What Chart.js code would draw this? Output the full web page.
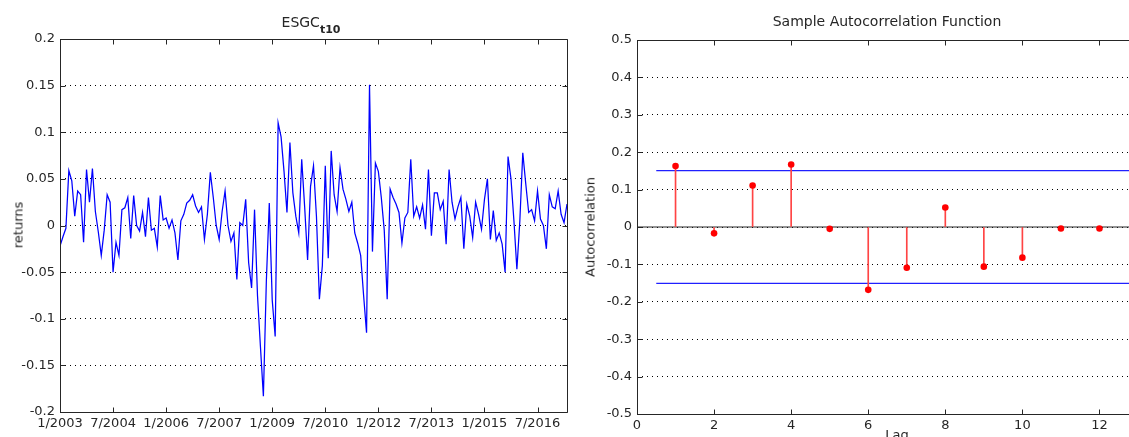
<!DOCTYPE html>
<html><head><meta charset="utf-8">
<script src="https://cdn.jsdelivr.net/npm/chart.js@4.4.1/dist/chart.umd.min.js"></script>
<style>
html,body{margin:0;padding:0;background:#fff;overflow:hidden;width:1129px;height:437px;}
#wrap{position:relative;width:1129px;height:437px;overflow:hidden;font-family:"DejaVu Sans",sans-serif;color:#262626;}
canvas{position:absolute;top:0;}
#c1{left:0;}
#c2{left:570px;}
.lbl{position:absolute;white-space:nowrap;line-height:1;}
#t1{left:311px;top:15px;font-size:14px;transform:translateX(-50%);}
#t1 sub{font-size:11px;font-weight:bold;vertical-align:-6px;}
#t2{left:887px;top:14px;font-size:14px;transform:translateX(-50%);}
#yl1{left:18px;top:225px;font-size:13px;transform:translate(-50%,-50%) rotate(-90deg);}
#yl2{left:590px;top:227px;font-size:13px;transform:translate(-50%,-50%) rotate(-90deg);}
#xl2{left:897px;top:428px;font-size:13px;transform:translateX(-50%);}
</style></head><body><div id="wrap">
<canvas id="c1" width="570" height="437"></canvas>
<canvas id="c2" width="580" height="437"></canvas>
<div class="lbl" id="t1">ESGC<sub>t10</sub></div>
<div class="lbl" id="t2">Sample Autocorrelation Function</div>
<div class="lbl" id="yl1">returns</div>
<div class="lbl" id="yl2">Autocorrelation</div>
<div class="lbl" id="xl2">Lag</div>
</div>
<script>
// ---------- data ----------
const returns = [
 -0.022,-0.012,-0.003,0.059,0.048,0.010,0.037,0.033,-0.018,0.060,
 0.025,0.061,0.015,-0.007,-0.032,-0.005,0.033,0.025,-0.050,-0.018,
 -0.032,0.017,0.019,0.030,-0.014,0.032,0.000,-0.006,0.014,-0.012,
 0.030,-0.005,-0.003,-0.023,0.032,0.006,0.008,-0.003,0.006,-0.008,
 -0.037,0.005,0.012,0.024,0.027,0.033,0.021,0.014,0.020,-0.015,
 0.012,0.057,0.030,0.000,-0.015,0.015,0.037,0.000,-0.017,-0.008,
 -0.058,0.003,0.000,0.028,-0.040,-0.067,0.017,-0.075,-0.130,-0.183,
 -0.060,0.024,-0.080,-0.119,0.110,0.095,0.058,0.014,0.089,0.035,
 0.010,-0.008,0.071,0.020,-0.037,0.042,0.064,0.010,-0.079,-0.043,
 0.064,-0.035,0.080,0.033,0.015,0.062,0.039,0.028,0.015,0.025,
 -0.008,-0.019,-0.032,-0.075,-0.115,0.151,-0.028,0.067,0.058,0.030,
 -0.005,-0.079,0.039,0.030,0.023,0.014,-0.019,0.008,0.014,0.071,
 0.010,0.020,0.008,0.022,-0.004,0.060,-0.011,0.035,0.035,0.017,
 0.026,-0.020,0.060,0.025,0.007,0.020,0.030,-0.025,0.023,0.010,
 -0.013,0.025,0.012,-0.004,0.028,0.050,-0.015,0.016,-0.016,-0.008,
 -0.020,-0.050,0.074,0.050,0.005,-0.047,0.005,0.078,0.045,0.014,
 0.017,0.005,0.037,0.007,0.000,-0.025,0.033,0.020,0.018,0.037,
 0.012,0.003,0.023
];
const xTickPositions = [0,18,36,54,72,90,108,126,144,162];
const xTickLabels = ['1/2003','7/2004','1/2006','7/2007','1/2009','7/2010','1/2012','7/2013','1/2015','7/2016'];
const leftYTicks = [-0.2,-0.15,-0.1,-0.05,0,0.05,0.1,0.15,0.2];

const lags = [1,2,3,4,5,6,7,8,9,10,11,12];
const acf = [0.163,-0.017,0.111,0.167,-0.005,-0.168,-0.109,0.052,-0.106,-0.082,-0.004,-0.004];
const confBound = 0.151;
const rightXTicks = [0,2,4,6,8,10,12];
const rightYTicks = [-0.5,-0.4,-0.3,-0.2,-0.1,0,0.1,0.2,0.3,0.4,0.5];

// ---------- helpers ----------
const AXIS = '#262626';
const FONT = {family:'"DejaVu Sans", sans-serif', size:13};
const fmt = v => (Math.round(v*100)/100).toString();
const al = p => Math.round(p) + 0.5;

const boxPlugin = {
  id:'box',
  afterDraw(chart){
    const {ctx, chartArea:{left,right,top,bottom}} = chart;
    const L=al(left), R=al(right), T=al(top), B=al(bottom), len=5;
    ctx.save();
    ctx.strokeStyle = AXIS; ctx.lineWidth = 1; ctx.setLineDash([]);
    ctx.beginPath();
    ctx.rect(L, T, R-L, B-T);
    chart.scales.x.ticks.forEach(t => {
      const px = al(chart.scales.x.getPixelForValue(t.value));
      ctx.moveTo(px, B); ctx.lineTo(px, B-len);
      ctx.moveTo(px, T); ctx.lineTo(px, T+len);
    });
    chart.scales.y.ticks.forEach(t => {
      const py = al(chart.scales.y.getPixelForValue(t.value));
      ctx.moveTo(L, py); ctx.lineTo(L+len, py);
      ctx.moveTo(R, py); ctx.lineTo(R-len, py);
    });
    ctx.stroke();
    ctx.restore();
  }
};

function yScale(min, max, ticks, width){
  return {
    type:'linear', min, max,
    afterBuildTicks: s => { s.ticks = ticks.map(v => ({value:v})); },
    afterFit: s => { s.width = width; },
    ticks:{callback: v => fmt(v), font:FONT, color:AXIS, padding:5},
    grid:{color:'#000', lineWidth:1, drawTicks:false},
    border:{display:false, dash:[1,4]}
  };
}
function xScale(min, max, ticks, labels, height){
  return {
    type:'linear', min, max, offset:false,
    afterBuildTicks: s => { s.ticks = ticks.map(v => ({value:v})); },
    afterFit: s => { s.height = height; },
    ticks:{callback: (v) => { const k = ticks.indexOf(v); return labels ? labels[k] : String(v); },
           font:FONT, color:AXIS, padding:4, autoSkip:false, maxRotation:0},
    grid:{display:false, drawTicks:false},
    border:{display:false}
  };
}

Chart.defaults.animation = false;

new Chart(document.getElementById('c1'), {
  type:'line',
  data:{datasets:[{
    data: returns.map((v,i) => ({x:i, y:v})),
    borderColor:'#0000ff', borderWidth:1.25, pointRadius:0, tension:0, fill:false
  }]},
  options:{
    responsive:false, animation:false,
    layout:{padding:{top:39, right:3, left:0, bottom:0}},
    plugins:{legend:{display:false}, tooltip:{enabled:false}},
    scales:{
      x: xScale(0, returns.length-1, xTickPositions, xTickLabels, 25),
      y: yScale(-0.2, 0.2, leftYTicks, 60)
    }
  },
  plugins:[boxPlugin]
});

new Chart(document.getElementById('c2'), {
  type:'line',
  data:{datasets:[
    {type:'line', order:0, data: lags.map((l,i)=>({x:l, y:acf[i]})), showLine:false,
     pointRadius:3.3, pointBackgroundColor:'#ff0000', pointBorderWidth:0, borderColor:'#ff0000'},
    {type:'bar', order:1, data: lags.map((l,i)=>({x:l, y:acf[i]})), backgroundColor:'#ff4444', barThickness:1},
    {type:'line', order:2, data:[{x:0.5,y:confBound},{x:13,y:confBound}], borderColor:'#2020ff', borderWidth:1.2, pointRadius:0},
    {type:'line', order:2, data:[{x:0.5,y:-confBound},{x:13,y:-confBound}], borderColor:'#2020ff', borderWidth:1.2, pointRadius:0},
    {type:'line', order:3, data:[{x:0,y:0},{x:13,y:0}], borderColor:AXIS, borderWidth:1, pointRadius:0}
  ]},
  options:{
    responsive:false, animation:false,
    layout:{padding:{top:40, right:12, left:0, bottom:0}},
    plugins:{legend:{display:false}, tooltip:{enabled:false}},
    scales:{
      x: xScale(0, 13, rightXTicks, null, 23),
      y: yScale(-0.5, 0.5, rightYTicks, 67)
    }
  },
  plugins:[boxPlugin]
});
</script>
</body></html>
